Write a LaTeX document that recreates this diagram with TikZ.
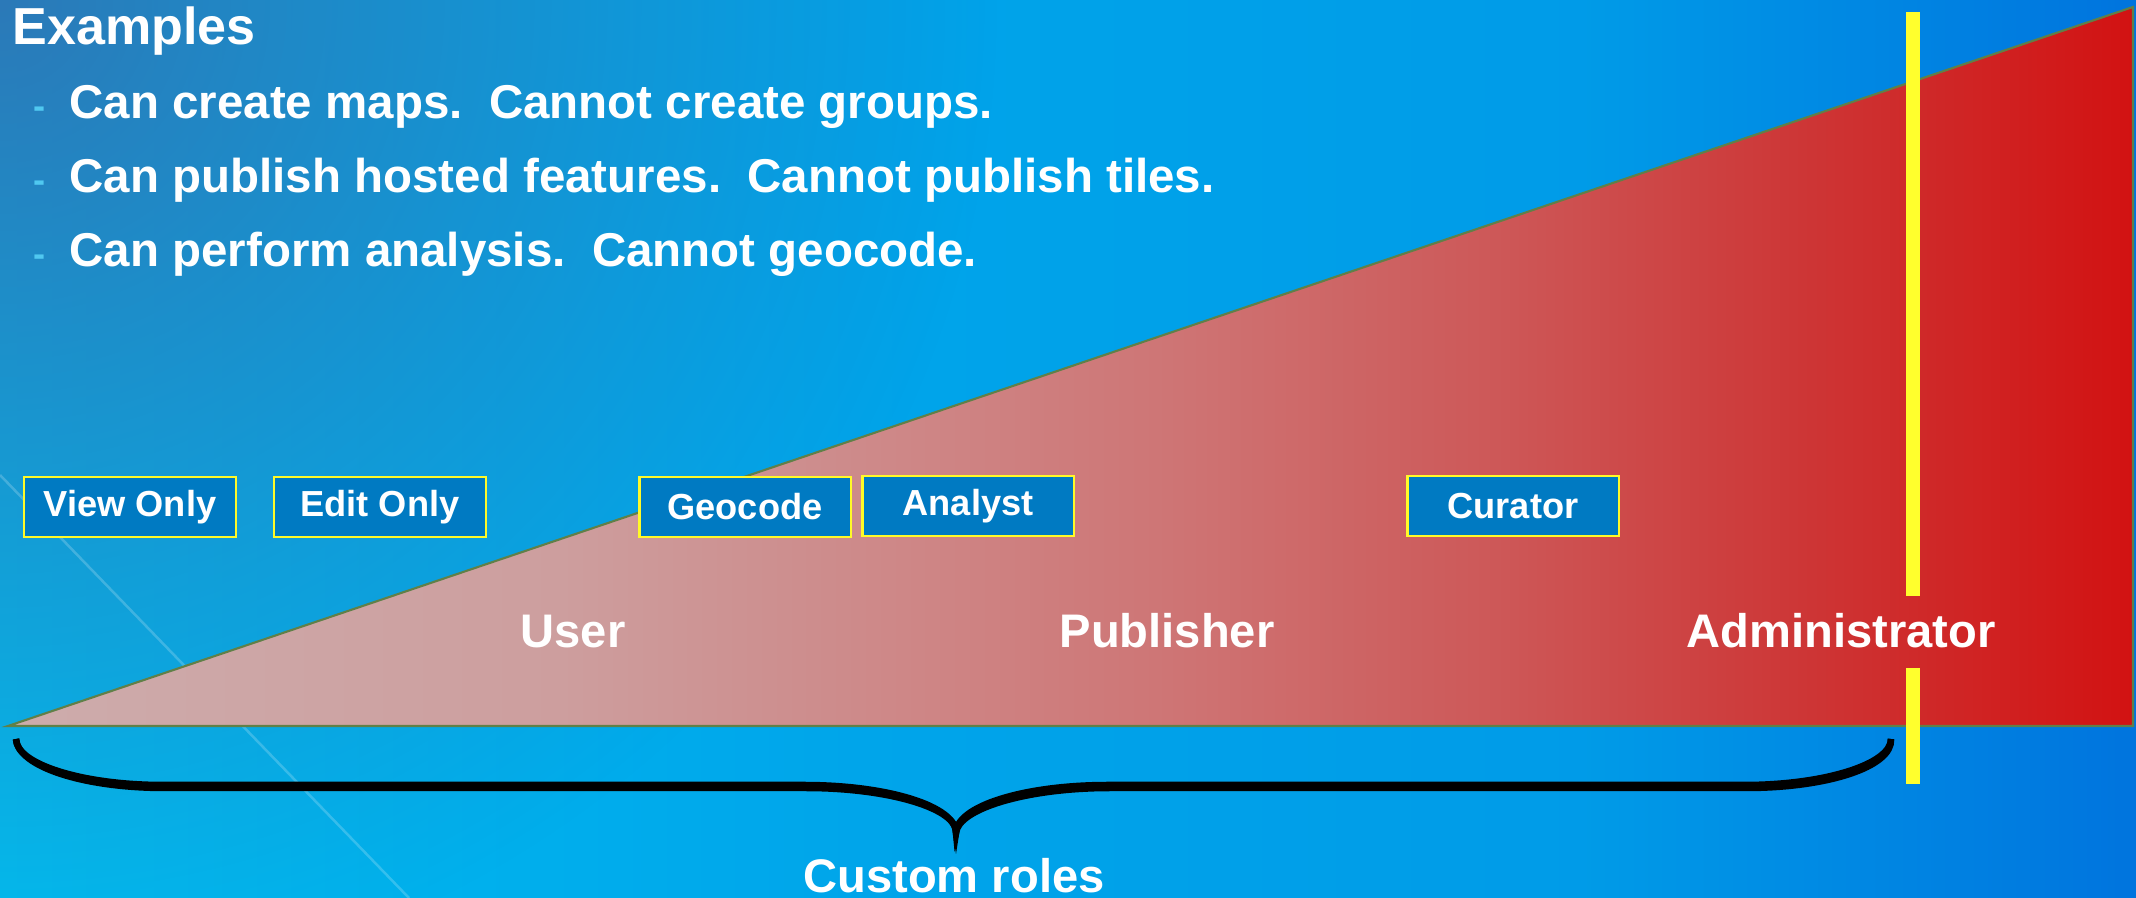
\documentclass[tikz,border=0pt]{standalone}
\usepackage{fontspec}
\setmainfont{Liberation Sans}
\usetikzlibrary{fadings}

\definecolor{bgleft}{RGB}{0,190,240}
\definecolor{bgmid}{RGB}{0,165,234}
\definecolor{bgright}{RGB}{0,116,222}
\definecolor{bgdark}{RGB}{62,92,160}
\definecolor{boxblue}{RGB}{0,122,194}
\definecolor{boxedge}{RGB}{255,250,40}
\definecolor{baryellow}{RGB}{255,255,45}
\definecolor{edgegreen}{RGB}{96,128,72}
\definecolor{dashcyan}{RGB}{80,200,240}

\pgfdeclarehorizontalshading{bgshade}{100bp}{color(0bp)=(bgleft); color(25bp)=(bgleft); color(45bp)=(bgmid); color(62bp)=(bgmid!80!bgright); color(75bp)=(bgright); color(100bp)=(bgright)}
\pgfdeclarehorizontalshading{triangleshade}{100bp}{color(0bp)=(rgb,255:red,205;green,172;blue,172); color(25bp)=(rgb,255:red,205;green,172;blue,172); color(38bp)=(rgb,255:red,205;green,158;blue,158); color(52bp)=(rgb,255:red,206;green,118;blue,118); color(60bp)=(rgb,255:red,205;green,88;blue,88); color(67bp)=(rgb,255:red,205;green,55;blue,55); color(75bp)=(rgb,255:red,210;green,18;blue,18); color(100bp)=(rgb,255:red,210;green,18;blue,18)}
\tikzfading[name=cornerfade, inner color=transparent!30, outer color=transparent!100]

\begin{document}
\begin{tikzpicture}[
    x=0.01cm, y=-0.01cm,
    heading/.style={text=white, anchor=base west, inner sep=0pt, font=\fontsize{14.8}{17}\selectfont\bfseries},
    item/.style={text=white, anchor=base west, inner sep=0pt, font=\fontsize{13.5}{16}\selectfont\bfseries},
    bulletmark/.style={text=dashcyan, anchor=base west, inner sep=0pt, font=\fontsize{10.3}{12}\selectfont\bfseries},
    rolebox/.style={rectangle, draw=boxedge, fill=boxblue, line width=0.6pt, minimum width=2.11cm, minimum height=0.6cm, inner sep=0pt, text=white, font=\fontsize{10.3}{12}\selectfont\bfseries},
    level/.style={text=white, anchor=base, inner sep=0pt, font=\fontsize{13.4}{16}\selectfont\bfseries},
    yellowbar/.style={draw=baryellow, line width=0.14cm},
    brace/.style={draw=black, line width=0.065cm}
]
    \useasboundingbox (0,0) rectangle (2136,898);

    % Background
    \shade[shading=bgshade] (0,0) rectangle (2136,898);
    \begin{scope}
        \clip (0,0) rectangle (2136,898);
        \fill[bgdark, path fading=cornerfade] (0,0) circle (1000);
        \draw[white, opacity=0.2, line width=0.025cm] (0,475) -- (409,898);
    \end{scope}

    % Permission triangle
    \shade[shading=triangleshade, draw=edgegreen, line width=0.6pt] (8,726) -- (2133,726) -- (2133,7) -- cycle;

    % Examples
    \node[heading] (examples) at (12,45) {Examples};
    \node[bulletmark] (dash1) at (33,119) {-};
    \node[item] (ex1) at (69,119) {Can create maps.\ \ Cannot create groups.};
    \node[bulletmark] (dash2) at (33,193) {-};
    \node[item] (ex2) at (69,193) {Can publish hosted features.\ \ Cannot publish tiles.};
    \node[bulletmark] (dash3) at (33,267) {-};
    \node[item] (ex3) at (69,267) {Can perform analysis.\ \ Cannot geocode.};

    % Custom role boxes
    \node[rolebox] (view) at (130,507) {View Only};
    \node[rolebox] (edit) at (380,507) {Edit Only};
    \node[rolebox] (geocode) at (745,507) {Geocode};
    \node[rolebox] (analyst) at (968,506) {Analyst};
    \node[rolebox] (curator) at (1513,506) {Curator};

    % Built-in roles
    \node[level] (user) at (573,648) {User};
    \node[level] (publisher) at (1167,648) {Publisher};
    \node[level] (admin) at (1841,648) {Administrator};

    % Administrator boundary
    \draw[yellowbar] (1913,12) -- (1913,596);
    \draw[yellowbar] (1913,668) -- (1913,784);

    % Brace (with its shadow)
    \coordinate (braceL) at (16,739);
    \coordinate (braceR) at (1891,739);
    \coordinate (braceTip) at (956,833);
    \foreach \dx/\dy in {2/3, 0/0}
        \draw[brace, shift={(\dx,\dy)}] (braceL) .. controls (16,764) and (82,785) .. (163,785)
            -- (804,785) .. controls (888,785) and (956,806) .. (braceTip)
            .. controls (956,806) and (1024,785) .. (1108,785)
            -- (1744,785) .. controls (1825,785) and (1891,764) .. (braceR);
    \node[level] (custom) at (954,893) {Custom roles};

\end{tikzpicture}
\end{document}
